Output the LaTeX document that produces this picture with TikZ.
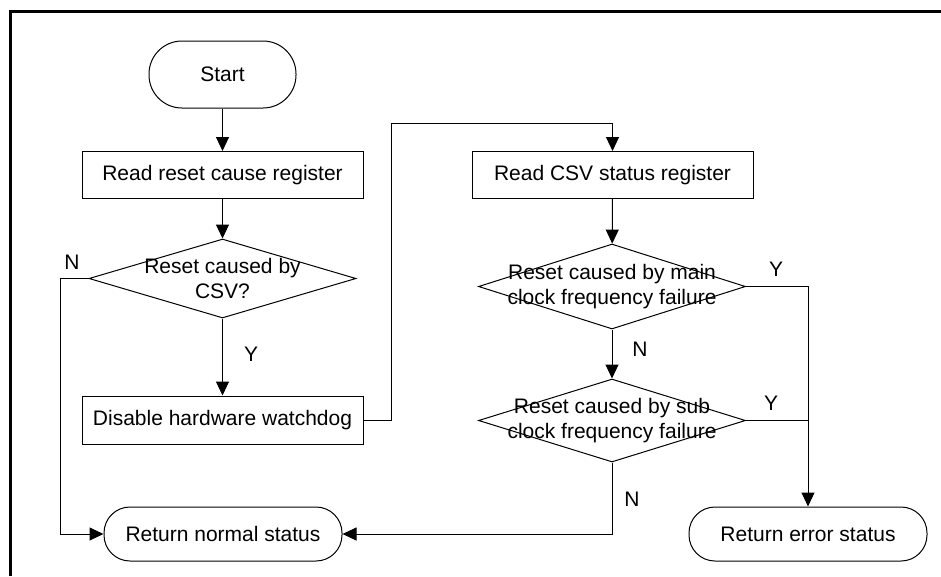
\documentclass[tikz,border=0pt]{standalone}
\usepackage{fontspec}
\setmainfont{Liberation Sans}
\usetikzlibrary{arrows.meta,shapes.geometric}

\begin{document}
\begin{tikzpicture}[x=1pt,y=-1pt,
  font=\fontsize{21}{25}\selectfont,
  line/.style={line width=1pt},
  arrow/.style={line,-{Triangle[length=14pt,width=13pt]}},
  process/.style={draw,line width=1pt,minimum width=281pt,minimum height=47pt,inner sep=0pt},
  terminal/.style={draw,line width=1pt,rounded corners=26pt,minimum height=54pt,inner sep=0pt},
  decision/.style={draw,diamond,line width=1pt,inner sep=0pt,minimum width=267pt}]
\useasboundingbox (0,0) rectangle (941,576);
% frame
\draw[line width=3pt] (10,576) -- (10,11) -- (941,11);
% left column
\node[terminal,minimum width=147pt,minimum height=67pt,rounded corners=33pt] (start) at (222.5,74.5) {Start};
\node[process] (readcause) at (222.5,175) {Read reset cause register};
\node[decision,minimum height=79pt,label={[align=center]center:Reset caused by\\CSV?}] (csv) at (222.5,278.5) {};
\node[process,minimum height=48pt] (disable) at (222.5,420) {Disable hardware watchdog};
\node[terminal,minimum width=238pt] (retnormal) at (223,534) {Return normal status};
% right column
\node[process] (readcsv) at (612.5,175) {Read CSV status register};
\node[decision,minimum height=85pt,label={[align=center]center:Reset caused by main\\clock frequency failure}] (mainclk) at (612,286.5) {};
\node[decision,minimum height=83pt,label={[align=center]center:Reset caused by sub\\clock frequency failure}] (subclk) at (612,420.5) {};
\node[terminal,minimum width=238pt] (reterror) at (808,534) {Return error status};
% turning points
\coordinate (nleft) at (60,278.5);
\coordinate (jog) at (391,123);
% connectors
\draw[arrow] (start) -- (readcause);
\draw[arrow] (readcause) -- (csv);
\draw[arrow] (csv) -- (disable);
\draw[arrow] (csv.west) -- (nleft) |- (retnormal.west);
\draw[arrow] (disable.east) -| (jog) -| (readcsv.north);
\draw[arrow] (readcsv) -- (mainclk);
\draw[arrow] (mainclk) -- (subclk);
\draw[arrow] (mainclk.east) -| (reterror.north);
\draw[line] (subclk.east) -- (subclk.east -| reterror.north);
\draw[arrow] (subclk.south) |- (retnormal.east);
% branch labels
\node (ncsv) at (72,262) {N};
\node (ycsv) at (251,354) {Y};
\node (ymain) at (776,269) {Y};
\node (nmain) at (640,349) {N};
\node (ysub) at (771,403) {Y};
\node (nsub) at (632,499) {N};
\end{tikzpicture}
\end{document}
